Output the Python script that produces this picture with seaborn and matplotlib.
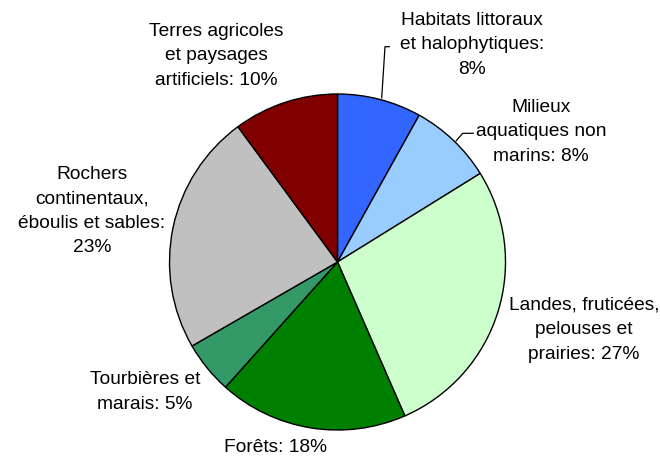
import matplotlib
matplotlib.use("Agg")
import matplotlib.pyplot as plt
import seaborn as sns

# Habitat categories and their shares (%)
categories = [
    "Habitats littoraux\net halophytiques:",
    "Milieux\naquatiques non\nmarins:",
    "Landes, fruticées,\npelouses et\nprairies:",
    "Forêts:",
    "Tourbières et\nmarais:",
    "Rochers\ncontinentaux,\néboulis et sables:",
    "Terres agricoles\net paysages\nartificiels:",
]
shares = [8, 8, 27, 18, 5, 23, 10]
slice_colors = ["#3366FF", "#99CCFF", "#CCFFCC", "#008000", "#339966", "#C0C0C0", "#800000"]

sns.set_theme(style="white")
plt.rcParams["font.family"] = ["Liberation Sans", "DejaVu Sans"]

W, H = 660, 458
fig = plt.figure(figsize=(W / 100, H / 100), dpi=100)
fig.patch.set_facecolor("white")

# Pie centre and radius in pixels
cx, cy, r = 337.5, 262.0, 168.0
ax = fig.add_axes([(cx - r) / W, (H - cy - r) / H, 2 * r / W, 2 * r / H])

palette = sns.color_palette(slice_colors)
ax.pie(shares, colors=palette, startangle=90, counterclock=False, radius=1.0,
       wedgeprops=dict(edgecolor="black", linewidth=1.0))
ax.set_xlim(-1, 1)
ax.set_ylim(-1, 1)
ax.set_aspect("equal")
ax.axis("off")

def to_data(px, py):
    return (px - cx) / r, (cy - py) / r

# Label placements (pixel centre of the text block)
label_pos = [
    (472, 45),
    (541, 132),
    (584, 330),
    (275, 447),
    (145, 392),
    (92, 211),
    (216, 56),
]

for cat, val, (px, py) in zip(categories, shares, label_pos):
    text = cat.split("\n")
    if cat.startswith("Habitats") or cat.startswith("Rochers"):
        lines = text + [f"{val}%"]
    else:
        lines = text[:-1] + [text[-1] + f" {val}%"]
    x, y = to_data(px, py)
    ax.text(x, y, "\n".join(lines), ha="center", va="center", fontsize=13.8,
            color="black", linespacing=1.58, clip_on=False)

# Leader lines for the two small slices
for pts in ([(381.7, 98), (385, 46.7), (389.5, 46.7)],
            [(456, 141), (462.7, 133.3), (473.5, 133.3)]):
    xs, ys = zip(*[to_data(p, q) for p, q in pts])
    ax.plot(xs, ys, color="black", linewidth=0.9, clip_on=False)

fig.savefig("out.png", dpi=100, facecolor="white")
